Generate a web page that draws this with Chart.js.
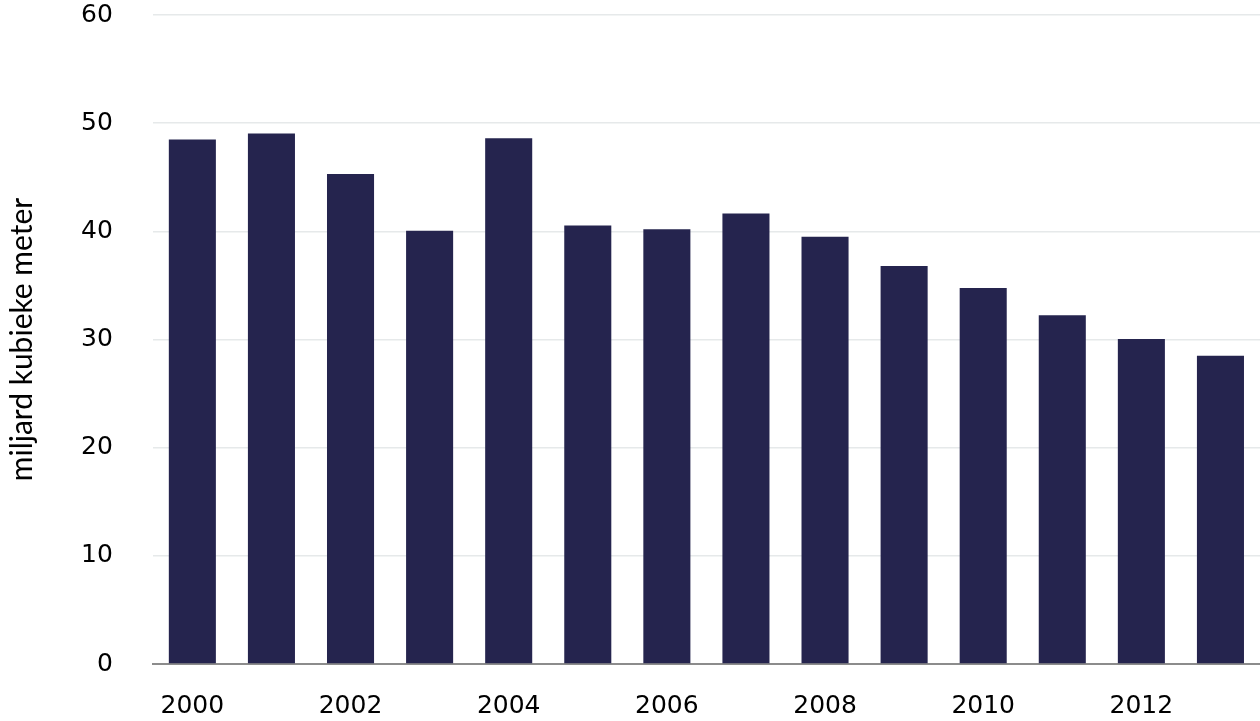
<!DOCTYPE html>
<html>
<head>
<meta charset="utf-8">
<script src="https://cdn.jsdelivr.net/npm/chart.js@4/dist/chart.umd.min.js"></script>
<style>
  body { margin: 0; background: #fff; }
  #wrap { width: 1260px; height: 721px; position: relative; }
</style>
</head>
<body>
<div id="wrap"><canvas id="chart"></canvas></div>
<script>
// jaren en volumes (miljard m3)
var years = ['2000','2001','2002','2003','2004','2005','2006','2007','2008','2009','2010','2011','2012','2013'];
var volumes = [48.5, 49.05, 45.3, 40.05, 48.6, 40.55, 40.2, 41.65, 39.5, 36.8, 34.75, 32.25, 30.05, 28.5];
var yTicks = [0, 10, 20, 30, 40, 50, 60];

var tickFont = { family: 'DejaVu Sans', size: 25 };
var titleFont = { family: 'Lato', size: 30 };

new Chart(document.getElementById('chart'), {
  type: 'bar',
  data: {
    labels: years,
    datasets: [{
      data: volumes,
      backgroundColor: '#25244e',
      borderWidth: 0,
      categoryPercentage: 1,
      barPercentage: 0.595
    }]
  },
  options: {
    responsive: true,
    maintainAspectRatio: false,
    animation: false,
    layout: { padding: 0 },
    plugins: {
      legend: { display: false },
      tooltip: { enabled: false }
    },
    scales: {
      x: {
        // grid hidden, tickLength only used as label gap
        grid: { display: false, drawTicks: true, tickLength: 27 },
        border: { display: true, color: '#8c8c8c', width: 2 },
        ticks: {
          autoSkip: false,
          maxRotation: 0,
          padding: 0,
          color: '#000',
          font: tickFont,
          callback: function(v, i) { return i % 2 === 0 ? years[i] : ''; }
        }
      },
      y: {
        min: 0,
        max: 60,
        afterBuildTicks: function(axis) {
          axis.ticks = yTicks.map(function(v) { return { value: v }; });
        },
        // tickLength used as the gap between labels and grid
        grid: { color: '#e6e9ea', lineWidth: 1.5, drawTicks: true, tickLength: 40, tickColor: 'rgba(0,0,0,0)' },
        border: { display: false },
        ticks: {
          padding: 0,
          color: '#000',
          font: tickFont
        },
        title: {
          display: true,
          text: 'miljard kubieke meter',
          color: '#000',
          font: titleFont,
          padding: { top: 4, bottom: 41 }
        }
      }
    }
  }
});
</script>
</body>
</html>
